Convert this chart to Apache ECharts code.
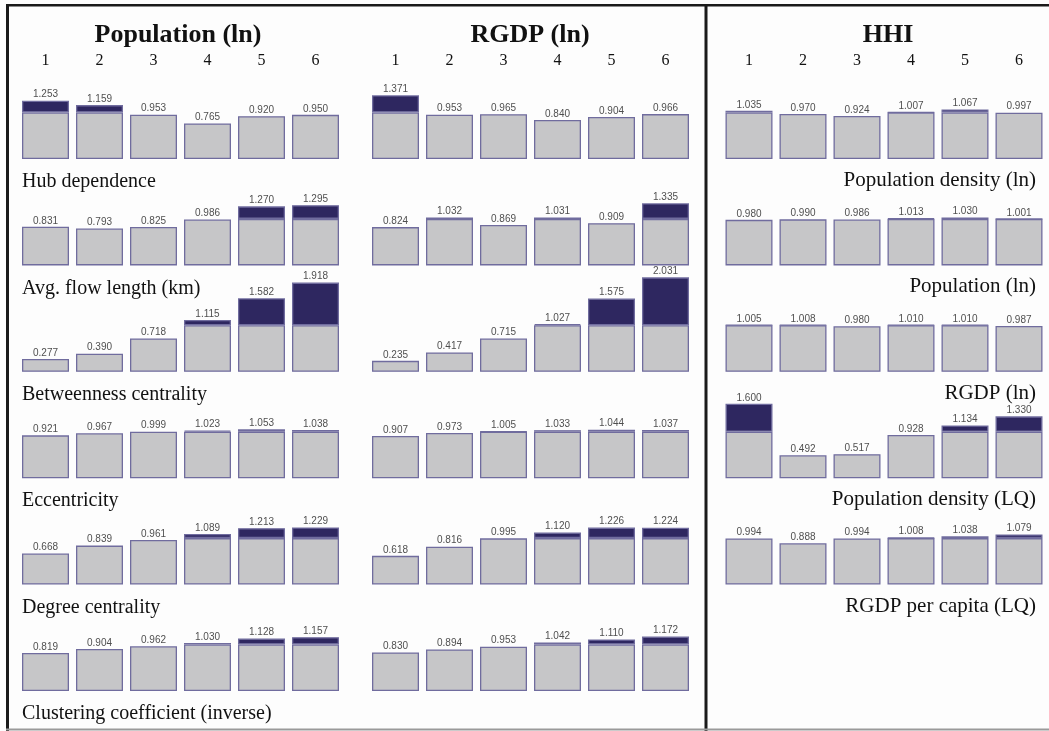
<!DOCTYPE html>
<html><head><meta charset="utf-8">
<script src="https://cdn.jsdelivr.net/npm/echarts@6/dist/echarts.min.js"></script>
<style>html,body{margin:0;padding:0;background:#fdfdfd}#c{width:1049px;height:731px}</style>
</head><body><div id="c"></div>
<script>
// ---- data ----
const columns = ['1','2','3','4','5','6'];
const panelTitles = ['Population (ln)', 'RGDP (ln)', 'HHI'];

const popRowLabels = ['Hub dependence','Avg. flow length (km)','Betweenness centrality','Eccentricity','Degree centrality','Clustering coefficient (inverse)'];
const hhiRowLabels = ['Population density (ln)','Population (ln)','RGDP (ln)','Population density (LQ)','RGDP per capita (LQ)'];

const popHub   = [1.253, 1.159, 0.953, 0.765, 0.920, 0.950];
const popFlow  = [0.831, 0.793, 0.825, 0.986, 1.270, 1.295];
const popBetw  = [0.277, 0.390, 0.718, 1.115, 1.582, 1.918];
const popEcc   = [0.921, 0.967, 0.999, 1.023, 1.053, 1.038];
const popDeg   = [0.668, 0.839, 0.961, 1.089, 1.213, 1.229];
const popClus  = [0.819, 0.904, 0.962, 1.030, 1.128, 1.157];

const rgdpHub  = [1.371, 0.953, 0.965, 0.840, 0.904, 0.966];
const rgdpFlow = [0.824, 1.032, 0.869, 1.031, 0.909, 1.335];
const rgdpBetw = [0.235, 0.417, 0.715, 1.027, 1.575, 2.031];
const rgdpEcc  = [0.907, 0.973, 1.005, 1.033, 1.044, 1.037];
const rgdpDeg  = [0.618, 0.816, 0.995, 1.120, 1.226, 1.224];
const rgdpClus = [0.830, 0.894, 0.953, 1.042, 1.110, 1.172];

const hhiPopDen   = [1.035, 0.970, 0.924, 1.007, 1.067, 0.997];
const hhiPop      = [0.980, 0.990, 0.986, 1.013, 1.030, 1.001];
const hhiRgdp     = [1.005, 1.008, 0.980, 1.010, 1.010, 0.987];
const hhiPopDenLQ = [1.600, 0.492, 0.517, 0.928, 1.134, 1.330];
const hhiRgdpPcLQ = [0.994, 0.888, 0.994, 1.008, 1.038, 1.079];

const panelRows = [
  [popHub, popFlow, popBetw, popEcc, popDeg, popClus],
  [rgdpHub, rgdpFlow, rgdpBetw, rgdpEcc, rgdpDeg, rgdpClus],
  [hhiPopDen, hhiPop, hhiRgdp, hhiPopDenLQ, hhiRgdpPcLQ]
];

// ---- layout ----
const PX_PER_UNIT = 46.5;
const panelLeft = [18.5, 368.5, 722];
const panelWidth = 324;
const panelTitleX = [178, 530, 888];
const baseline0 = 159, rowStep = 106.4;

const GREY = '#c6c6c8', DARK = '#2e2760', EDGE = '#706c9e';
const serif = '"Liberation Serif","Times New Roman",serif';

const grids = [], xAxes = [], yAxes = [], series = [], graphics = [];
let gi = 0;
panelRows.forEach((rows, p) => {
  rows.forEach((vals, r) => {
    const base = baseline0 + r * rowStep;
    const H = r === 0 ? 84 : 100;
    grids.push({left: panelLeft[p], width: panelWidth, top: base - H, height: H});
    xAxes.push({
      type: 'category', data: columns, gridIndex: gi,
      position: 'top', show: r === 0,
      axisLine: {show: false}, axisTick: {show: false},
      axisLabel: {show: r === 0, margin: 6, fontFamily: serif, fontSize: 16, color: '#111'}
    });
    yAxes.push({type: 'value', gridIndex: gi, min: 0, max: H / PX_PER_UNIT, show: false});
    series.push({
      type: 'bar', xAxisIndex: gi, yAxisIndex: gi, stack: 's' + gi, barWidth: 47, silent: true,
      data: vals.map(v => Math.min(v, 1)),
      itemStyle: {color: GREY, borderColor: EDGE, borderWidth: 1.3}
    });
    series.push({
      type: 'bar', xAxisIndex: gi, yAxisIndex: gi, stack: 's' + gi, barWidth: 47, silent: true,
      data: vals.map(v => v > 1 ? v - 1 : '-'),
      itemStyle: {color: DARK, borderColor: EDGE, borderWidth: 1.3}
    });
    series.push({
      type: 'scatter', xAxisIndex: gi, yAxisIndex: gi, symbolSize: 0, silent: true,
      data: vals,
      label: {show: true, position: 'top', distance: 1,
        formatter: d => d.value.toFixed(3),
        fontFamily: '"Liberation Sans Narrow","Liberation Sans",Arial,sans-serif',
        fontSize: 10, color: '#222'}
    });
    // row label
    if (p === 0) {
      graphics.push({type: 'text', left: 22, top: base + 13,
        style: {text: popRowLabels[r], font: '20px ' + serif, fill: '#111'}});
    } else if (p === 2) {
      graphics.push({type: 'text', right: 13, top: base + 11,
        style: {text: hhiRowLabels[r], font: '21px ' + serif, fill: '#111', textAlign: 'right'}});
    }
    gi++;
  });
});

panelTitles.forEach((t, p) => {
  graphics.push({type: 'text', x: panelTitleX[p], y: 35,
    style: {text: t, font: 'bold 26px ' + serif, fill: '#111', textAlign: 'center', textVerticalAlign: 'middle'}});
});

// frame
graphics.push({type: 'rect', shape: {x: 6, y: 4, width: 3, height: 727}, style: {fill: '#1a1a1a'}});
graphics.push({type: 'rect', shape: {x: 6, y: 4, width: 1043, height: 2.5}, style: {fill: '#1a1a1a'}});
graphics.push({type: 'rect', shape: {x: 704.5, y: 4, width: 3, height: 727}, style: {fill: '#1a1a1a'}});
graphics.push({type: 'rect', shape: {x: 6, y: 728.5, width: 1043, height: 2}, style: {fill: '#9a9a9a'}});

const chart = echarts.init(document.getElementById('c'), null, {renderer: 'canvas'});
chart.setOption({
  backgroundColor: '#fdfdfd',
  animation: false,
  grid: grids, xAxis: xAxes, yAxis: yAxes, series: series,
  graphic: graphics
});
</script></body></html>
